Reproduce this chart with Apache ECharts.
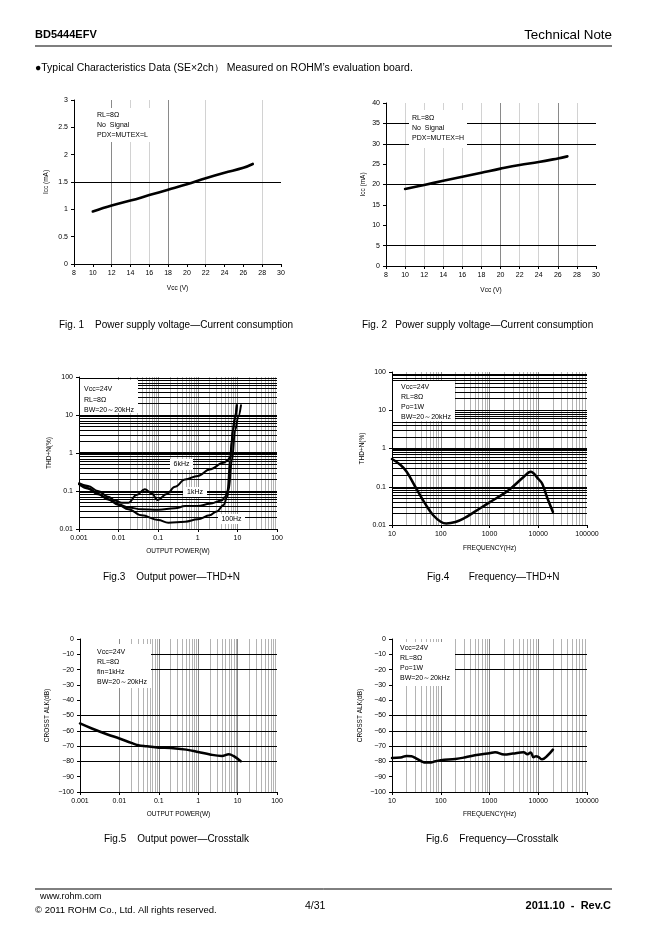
<!DOCTYPE html>
<html><head><meta charset="utf-8">
<script src="https://cdn.jsdelivr.net/npm/echarts@6/dist/echarts.min.js"></script>
<style>html,body{margin:0;padding:0;background:#fff}#c{width:662px;height:936px}</style>
</head><body><div id="c"></div>
<script>
// ---------- Fig.1 : Vcc vs Icc (PDX=MUTEX=L) ----------
const vcc1 = [10,12,14,16,18,20,22,24,26,27];
const icc1 = [0.96,1.07,1.16,1.26,1.36,1.46,1.57,1.67,1.76,1.83];
const xTicks1 = [8,10,12,14,16,18,20,22,24,26,28,30];
const yTicks1 = [0,0.5,1,1.5,2,2.5,3];
// ---------- Fig.2 : Vcc vs Icc (PDX=MUTEX=H) ----------
const vcc2 = [10,12,14,16,18,20,22,24,26,27];
const icc2 = [18.9,19.9,20.9,21.9,22.9,23.9,24.8,25.5,26.4,26.9];
const yTicks2 = [0,5,10,15,20,25,30,35,40];
// ---------- Fig.3 : Output power vs THD+N ----------
const po6k  = [0.001,0.0017,0.003,0.0054,0.0085,0.0119,0.0175,0.0284,0.046,0.068,0.097,0.164,0.266,0.477,1,2,4.45,5.6,6.6,7.2,7.7,8.5,9.7];
const thd6k = [0.16,0.135,0.1,0.071,0.055,0.049,0.049,0.078,0.111,0.087,0.058,0.083,0.13,0.2,0.25,0.37,0.55,0.63,0.8,2,4,7.6,18];
const po1k  = [0.001,0.0017,0.003,0.0054,0.01,0.0175,0.038,0.1,0.266,0.477,1,2,4,4.9,5.6,6.6,7.7,8.5,9.7];
const thd1k = [0.155,0.12,0.085,0.062,0.045,0.037,0.033,0.032,0.035,0.04,0.04,0.046,0.056,0.07,0.1,0.65,4,7.6,18];
const po100 = [0.001,0.0017,0.003,0.0054,0.01,0.0175,0.038,0.1,0.18,0.477,1,2,3,4.5,5.5,6,7.26,8.8,10.5,12.3];
const thd100= [0.15,0.115,0.082,0.06,0.043,0.033,0.023,0.0173,0.0147,0.0156,0.018,0.023,0.029,0.043,0.07,0.106,0.65,4,9,18];
const powTicks = [0.001,0.01,0.1,1,10,100];
const powLabels = ['0.001','0.01','0.1','1','10','100'];
const thdTicks = [0.01,0.1,1,10,100];
const thdLabels = ['0.01','0.1','1','10','100'];
// ---------- Fig.4 : Frequency vs THD+N ----------
const freq4 = [10,15,20,30,50,70,100,130,200,300,500,1000,2000,3000,5000,7000,10000,12000,15000,20000];
const thd4  = [0.53,0.37,0.246,0.1,0.033,0.018,0.0122,0.011,0.012,0.015,0.0223,0.039,0.067,0.1,0.18,0.246,0.16,0.122,0.055,0.022];
const freqTicks = [10,100,1000,10000,100000];
const freqLabels = ['10','100','1000','10000','100000'];
// ---------- Fig.5 : Output power vs Crosstalk ----------
const po5 = [0.001,0.002,0.005,0.01,0.02,0.03,0.05,0.1,0.2,0.5,1,2,4,6,8,12];
const ct5 = [-55.2,-58.5,-62.4,-65,-67.9,-69.4,-70.1,-71,-71.2,-72.3,-73.8,-75.5,-76.4,-75.3,-76.6,-79.9];
// ---------- Fig.6 : Frequency vs Crosstalk ----------
const f6  = [10,15,20,25,30,40,50,60,70,100,200,300,400,500,700,1000,1300,2000,3000,5000,6000,7000,8000,9000,10000,12000,15000,20000];
const ct6 = [-77.7,-77.5,-76.4,-76.6,-77.7,-79.9,-80.8,-80.8,-80.3,-79.3,-78.4,-77.5,-76.6,-76,-75.3,-74.7,-74,-75.5,-74.9,-74,-75.3,-74.2,-77.3,-76.6,-77,-78.6,-76.6,-72.3];
const ctTicks = [-100,-90,-80,-70,-60,-50,-40,-30,-20,-10,0];
const ctLabels = ['\u2212100','\u221290','\u221280','\u221270','\u221260','\u221250','\u221240','\u221230','\u221220','\u221210','0'];

const FONT = '"Liberation Sans", Arial, sans-serif';
const DASH = '\u2014';
const zip = (a,b) => a.map((v,i)=>[v,b[i]]);
function lookup(ticks, labels){
  return v => { let bi=0, bd=Infinity; ticks.forEach((t,i)=>{const d=Math.abs(Math.log10(t)-Math.log10(v)); if(d<bd){bd=d;bi=i;}}); return labels[bi]; };
}
function linLookup(ticks, labels){
  return v => { let bi=0, bd=Infinity; ticks.forEach((t,i)=>{const d=Math.abs(t-v); if(d<bd){bd=d;bi=i;}}); return labels[bi]; };
}
function minors(kFrom,kTo){ const out=[]; for(let k=kFrom;k<kTo;k++){ for(let m=2;m<=9;m++) out.push(m*Math.pow(10,k)); } return out; }
function allDec(kFrom,kTo){ const out=[]; for(let k=kFrom;k<kTo;k++){ for(let m=1;m<=9;m++) out.push(m*Math.pow(10,k)); } return out; }
const V = (vals,color,width)=>vals.map(v=>({xAxis:v,lineStyle:{color:color,width:width,type:'solid'}}));
const H = (vals,color,width)=>vals.map(v=>({yAxis:v,lineStyle:{color:color,width:width,type:'solid'}}));

const grids = [
 {left:74, top:100, width:207, height:164},
 {left:386, top:103, width:210, height:163},
 {left:79, top:377, width:198, height:152},
 {left:392, top:372, width:195, height:153},
 {left:80, top:639, width:197, height:153},
 {left:392, top:639, width:195, height:153}
];

function axisBase(i, name, gap){
  return {gridIndex:i, name:name, nameLocation:'middle', nameGap:gap,
    nameTextStyle:{fontSize:6.5,color:'#000',fontFamily:FONT},
    axisLine:{show:true,onZero:false,lineStyle:{color:'#000',width:1}},
    axisTick:{show:true,length:3,lineStyle:{color:'#000',width:1}},
    splitLine:{show:false}, minorTick:{show:false},
    axisLabel:{fontSize:7,color:'#000',fontFamily:FONT,margin:6}};
}
const xAxes = [], yAxes = [];
xAxes.push(Object.assign(axisBase(0,'Vcc (V)',21),{type:'value',min:8,max:30,interval:2}));
yAxes.push(Object.assign(axisBase(0,'Icc (mA)',24),{type:'value',min:0,max:3,interval:0.5,nameRotate:90}));
xAxes.push(Object.assign(axisBase(1,'Vcc (V)',21),{type:'value',min:8,max:30,interval:2}));
yAxes.push(Object.assign(axisBase(1,'Icc (mA)',19),{type:'value',min:0,max:40,interval:5,nameRotate:90}));
let a;
a = axisBase(2,'OUTPUT POWER(W)',19); a.type='log'; a.logBase=10; a.min=0.001; a.max=100; a.splitNumber=5; a.axisLabel.formatter=lookup(powTicks,powLabels); xAxes.push(a);
a = axisBase(2,'THD+N(%)',26); a.type='log'; a.logBase=10; a.min=0.01; a.max=100; a.splitNumber=4; a.nameRotate=90; a.axisLabel.formatter=lookup(thdTicks,thdLabels); yAxes.push(a);
a = axisBase(3,'FREQUENCY(Hz)',20); a.type='log'; a.logBase=10; a.min=10; a.max=100000; a.splitNumber=4; a.axisLabel.formatter=lookup(freqTicks,freqLabels); xAxes.push(a);
a = axisBase(3,'THD+N(%)',26); a.type='log'; a.logBase=10; a.min=0.01; a.max=100; a.splitNumber=4; a.nameRotate=90; a.axisLabel.formatter=lookup(thdTicks,thdLabels); yAxes.push(a);
a = axisBase(4,'OUTPUT POWER(W)',19); a.type='log'; a.logBase=10; a.min=0.001; a.max=100; a.splitNumber=5; a.axisLabel.formatter=lookup(powTicks,powLabels); xAxes.push(a);
a = axisBase(4,'CROSST ALK(dB)',29); a.type='value'; a.min=-100; a.max=0; a.interval=10; a.nameRotate=90; a.axisLabel.formatter=linLookup(ctTicks,ctLabels); yAxes.push(a);
a = axisBase(5,'FREQUENCY(Hz)',19); a.type='log'; a.logBase=10; a.min=10; a.max=100000; a.splitNumber=4; a.axisLabel.formatter=lookup(freqTicks,freqLabels); xAxes.push(a);
a = axisBase(5,'CROSST ALK(dB)',28); a.type='value'; a.min=-100; a.max=0; a.interval=10; a.nameRotate=90; a.axisLabel.formatter=linLookup(ctTicks,ctLabels); yAxes.push(a);

function gridSeries(i, lines){
  return {type:'line', xAxisIndex:i, yAxisIndex:i, data:[], z:1, silent:true, animation:false,
    markLine:{z:1, silent:true, animation:false, symbol:['none','none'], label:{show:false},
      lineStyle:{type:'solid'}, emphasis:{disabled:true}, data:lines}};
}
function curve(i, data, w, mono){
  const s = {type:'line', xAxisIndex:i, yAxisIndex:i, data:data, z:5, showSymbol:false, symbol:'none',
    smooth:0.4, animation:false, silent:true, lineStyle:{color:'#000', width:w||2.5, join:'round', cap:'round'}};
  if (mono) s.smoothMonotone = 'x';
  return s;
}
const thdH = allDec(-2,2).filter(v=>v>0.0101).filter(v=>Math.abs(v-1)>1e-9);
const series = [
  gridSeries(0, [].concat(V([12,18],'#8a8a8a',1), V([14,16,22,28],'#d2d2d2',1), H([1.5],'#000',1.2))),
  gridSeries(1, [].concat(V([20,26],'#8a8a8a',1), V([10,12,14,16,18,22,24,28],'#d2d2d2',1), H([5,20,30,35],'#000',1.2))),
  gridSeries(2, [].concat(V(minors(-3,2),'#b4b4b4',1), V([0.01,0.1,1,10],'#8a8a8a',1), H(thdH,'#000',1), H([1],'#000',2))),
  gridSeries(3, [].concat(V(minors(1,5),'#b4b4b4',1), V([100,1000,10000],'#8a8a8a',1), H(thdH,'#000',1), H([1],'#000',2))),
  gridSeries(4, [].concat(V(minors(-3,2),'#b4b4b4',1), V([0.01,0.1,1,10],'#8a8a8a',1), H([-10,-20,-50,-60,-70,-80],'#000',1.2))),
  gridSeries(5, [].concat(V(minors(1,5),'#b4b4b4',1), V([100,1000,10000],'#8a8a8a',1), H([-10,-20,-50,-60,-70,-80],'#000',1.2))),
  curve(0, zip(vcc1,icc1), 2.6),
  curve(1, zip(vcc2,icc2), 2.6),
  curve(2, zip(po6k,thd6k), 2, true),
  curve(2, zip(po1k,thd1k), 2, true),
  curve(2, zip(po100,thd100), 2, true),
  curve(3, zip(freq4,thd4), 2.5),
  curve(4, zip(po5,ct5), 2.5),
  curve(5, zip(f6,ct6), 2.5)
];

function T(x,y,text,size,opt){
  opt = opt||{};
  return {type:'text', x:x, y:y, z:opt.z||10, silent:true,
    style:{text:text, fontSize:size, fontFamily:opt.family||FONT, fontWeight:opt.weight||'normal', fill:'#000',
      align:opt.align||'left', verticalAlign:opt.va||'middle', textAlign:opt.align||'left', textVerticalAlign:opt.va||'middle',
      lineHeight:opt.lh||size*1.2}};
}
function R(x,y,w,h){ return {type:'rect', z:3, silent:true, shape:{x:x,y:y,width:w,height:h}, style:{fill:'#fff'}}; }
function L(x1,y1,x2,y2,w){ return {type:'line', z:10, silent:true, shape:{x1:x1,y1:y1,x2:x2,y2:y2}, style:{stroke:'#000',lineWidth:w}}; }

const graphic = [
  T(35,35,'BD5444EFV',11,{weight:'bold'}),
  T(612,35,'Technical Note',13.4,{align:'right'}),
  L(35,46,612,46,1.2),
  T(35,68,'\u25CFTypical Characteristics Data (SE\u00D72ch\uFF09 Measured on ROHM\u2019s evaluation board.',10.45),
  R(94,108,58,34), T(97,110,'RL=8\u03A9\nNo  Signal\nPDX=MUTEX=L',7,{va:'top',lh:10}),
  R(409,110,58,38), T(412,113,'RL=8\u03A9\nNo  Signal\nPDX=MUTEX=H',7,{va:'top',lh:10}),
  R(80,380,58,33), T(84,384,'Vcc=24V\nRL=8\u03A9\nBW=20\uFF5E20kHz',7,{va:'top',lh:10.5}),
  R(393,381,62,40), T(401,382,'Vcc=24V\nRL=8\u03A9\nPo=1W\nBW=20\uFF5E20kHz',7,{va:'top',lh:10}),
  R(81,644,70,44), T(97,647,'Vcc=24V\nRL=8\u03A9\nfin=1kHz\nBW=20\uFF5E20kHz',7,{va:'top',lh:10}),
  R(393,642,62,44), T(400,643.5,'Vcc=24V\nRL=8\u03A9\nPo=1W\nBW=20\uFF5E20kHz',7,{va:'top',lh:9.8}),
  R(170,459,23,11), T(181.5,464.5,'6kHz',7,{align:'center'}),
  R(183,487,24,10), T(195,492,'1kHz',7,{align:'center'}),
  R(218,514,27,10), T(231.5,519,'100Hz',7,{align:'center'}),
  T(59,325,'Fig. 1    Power supply voltage'+DASH+'Current consumption',10),
  T(362,325,'Fig. 2   Power supply voltage'+DASH+'Current consumption',10),
  T(103,577,'Fig.3    Output power'+DASH+'THD+N',10),
  T(427,577,'Fig.4       Frequency'+DASH+'THD+N',10),
  T(104,839,'Fig.5    Output power'+DASH+'Crosstalk',10),
  T(426,839,'Fig.6    Frequency'+DASH+'Crosstalk',10),
  L(35,889,612,889,1),
  T(40,897,'www.rohm.com',9),
  T(35,910,'\u00A9 2011 ROHM Co., Ltd. All rights reserved.',9.5),
  T(305,906,'4/31',10.5),
  T(611,906,'2011.10  -  Rev.C',11,{align:'right',weight:'bold'})
];

const chart = echarts.init(document.getElementById('c'), null, {renderer:'canvas'});
chart.setOption({
  backgroundColor:'#fff', animation:false,
  grid: grids.map(g=>Object.assign({containLabel:false, show:false}, g)),
  xAxis: xAxes, yAxis: yAxes, series: series, graphic: graphic
});
</script></body></html>
